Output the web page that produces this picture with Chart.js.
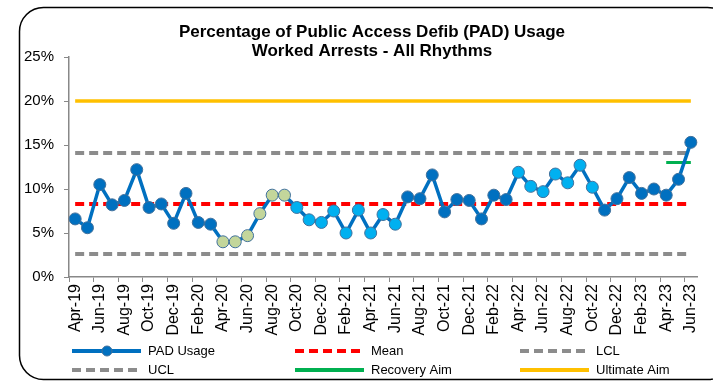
<!DOCTYPE html>
<html lang="en">
<head>
    <meta charset="UTF-8">
    <title>PAD Usage</title>
    <style>
        html, body { margin: 0; padding: 0; background: #fff; }
        #wrap { position: relative; width: 713px; height: 382px; }
    </style>
</head>
<body>
    <div id="wrap"><canvas id="padChart" width="713" height="382"></canvas></div>
    <script src="https://cdn.jsdelivr.net/npm/chart.js@4.4.0/dist/chart.umd.min.js"></script>
    <script>
        const months = [
            'Apr-19','May-19','Jun-19','Jul-19','Aug-19','Sep-19','Oct-19','Nov-19','Dec-19',
            'Jan-20','Feb-20','Mar-20','Apr-20','May-20','Jun-20','Jul-20','Aug-20','Sep-20','Oct-20','Nov-20','Dec-20',
            'Jan-21','Feb-21','Mar-21','Apr-21','May-21','Jun-21','Jul-21','Aug-21','Sep-21','Oct-21','Nov-21','Dec-21',
            'Jan-22','Feb-22','Mar-22','Apr-22','May-22','Jun-22','Jul-22','Aug-22','Sep-22','Oct-22','Nov-22','Dec-22',
            'Jan-23','Feb-23','Mar-23','Apr-23','May-23','Jun-23'
        ]
        // % of worked arrests with a PAD used
        const padUsage = [
            6.6, 5.6, 10.5, 8.2, 8.7, 12.2, 7.9, 8.3, 6.1,
            9.5, 6.2, 6.0, 4.0, 4.0, 4.7, 7.2, 9.3, 9.3, 7.9, 6.5, 6.2,
            7.5, 5.0, 7.6, 5.0, 7.1, 6.0, 9.1, 8.9, 11.6, 7.4, 8.8, 8.7,
            6.6, 9.3, 8.8, 11.9, 10.3, 9.7, 11.7, 10.7, 12.7, 10.2, 7.6, 8.9,
            11.3, 9.5, 10.0, 9.3, 11.1, 15.3
        ]
        const meanValue = 8.3
        const lclValue = 2.6
        const uclValue = 14.1
        const ultimateAim = 20
        const recoveryAim = 13
        const recoveryMonths = ['Apr-23','May-23','Jun-23']
        // SPC signal runs (shown with different point fills)
        const lowRunMonths = ['Apr-20','May-20','Jun-20','Jul-20','Aug-20','Sep-20']
        const shiftMonths = ['Oct-20','Nov-20','Dec-20','Jan-21','Feb-21','Mar-21','Apr-21','May-21','Jun-21',
            'Apr-22','May-22','Jun-22','Jul-22','Aug-22','Sep-22','Oct-22']

        const FONT = "'Liberation Sans', Arial, sans-serif"

        const pointFill = months.map(m => {
            if (lowRunMonths.includes(m)) return '#C3D69B'
            if (shiftMonths.includes(m)) return '#00B0F0'
            return '#0070C0'
        })

        const flat = v => months.map(() => v)

        const legendItems = [
            { label: 'PAD Usage', color: '#0070C0', dash: [], width: 4, dot: true, x: 72, y: 351 },
            { label: 'Mean', color: '#FF0000', dash: [9, 5], width: 4, x: 295, y: 351 },
            { label: 'LCL', color: '#8C8C8C', dash: [9, 5], width: 4, x: 520, y: 351 },
            { label: 'UCL', color: '#8C8C8C', dash: [9, 5], width: 4, x: 72, y: 370 },
            { label: 'Recovery Aim', color: '#00B050', dash: [], width: 4, x: 295, y: 370 },
            { label: 'Ultimate Aim', color: '#FFC000', dash: [], width: 4, x: 520, y: 370 },
        ]

        const decorPlugin = {
            id: 'decor',
            afterDraw(chart) {
                const ctx = chart.ctx
                ctx.save()
                // frame
                ctx.strokeStyle = '#000'
                ctx.lineWidth = 1.5
                ctx.beginPath()
                ctx.roundRect(19.5, 7.5, 712, 372, 24)
                ctx.stroke()
                // title
                ctx.fillStyle = '#000'
                ctx.font = 'bold 17px ' + FONT
                ctx.textAlign = 'center'
                ctx.textBaseline = 'middle'
                ctx.fillText('Percentage of Public Access Defib (PAD) Usage', 372, 32)
                ctx.fillText('Worked Arrests - All Rhythms', 372, 51)
                // legend
                ctx.font = '13px ' + FONT
                ctx.textAlign = 'left'
                legendItems.forEach(it => {
                    ctx.strokeStyle = it.color
                    ctx.lineWidth = it.width
                    ctx.setLineDash(it.dash)
                    ctx.lineCap = 'butt'
                    ctx.beginPath()
                    ctx.moveTo(it.x, it.y)
                    ctx.lineTo(it.x + 69, it.y)
                    ctx.stroke()
                    ctx.setLineDash([])
                    if (it.dot) {
                        ctx.fillStyle = '#0070C0'
                        ctx.strokeStyle = '#41719C'
                        ctx.lineWidth = 1
                        ctx.beginPath()
                        ctx.arc(it.x + 35, it.y, 5, 0, Math.PI * 2)
                        ctx.fill()
                        ctx.stroke()
                    }
                    ctx.fillStyle = '#000'
                    ctx.fillText(it.label, it.x + 76, it.y)
                })
                ctx.restore()
            }
        }

        const dashed = (label, value, color) => ({
            label,
            data: flat(value),
            borderColor: color,
            borderWidth: 4,
            borderDash: [9, 5],
            pointRadius: 0,
            fill: false,
        })

        new Chart(document.getElementById('padChart').getContext('2d'), {
            type: 'line',
            data: {
                labels: months,
                datasets: [
                    {
                        label: 'PAD Usage',
                        data: padUsage,
                        borderColor: '#0070C0',
                        borderWidth: 3.5,
                        pointRadius: 6,
                        pointBackgroundColor: pointFill,
                        pointBorderColor: '#41719C',
                        pointBorderWidth: 1,
                        tension: 0,
                    },
                    dashed('Mean', meanValue, '#FF0000'),
                    {
                        label: 'Recovery Aim',
                        data: months.map(m => recoveryMonths.includes(m) ? recoveryAim : null),
                        borderColor: '#00B050',
                        borderWidth: 3,
                        pointRadius: 0,
                    },
                    dashed('LCL', lclValue, '#8C8C8C'),
                    dashed('UCL', uclValue, '#8C8C8C'),
                    {
                        label: 'Ultimate Aim',
                        data: flat(ultimateAim),
                        borderColor: '#FFC000',
                        borderWidth: 3.5,
                        pointRadius: 0,
                    },
                ]
            },
            options: {
                responsive: false,
                animation: false,
                layout: { padding: { left: 20, right: 16, top: 57, bottom: 40 } },
                plugins: {
                    legend: { display: false },
                    title: { display: false },
                    tooltip: { enabled: false },
                },
                scales: {
                    y: {
                        min: 0,
                        max: 25,
                        afterFit: s => { s.width = 49 },
                        ticks: {
                            stepSize: 5,
                            callback: v => v + '%',
                            color: '#000',
                            padding: 10,
                            font: { family: FONT, size: 15 },
                        },
                        grid: { drawOnChartArea: false, tickLength: 5, color: '#888' },
                        border: { color: '#888', width: 1.5 },
                    },
                    x: {
                        offset: true,
                        afterFit: s => { s.height = 65 },
                        ticks: {
                            autoSkip: false,
                            minRotation: 90,
                            maxRotation: 90,
                            padding: 2,
                            color: '#000',
                            font: { family: FONT, size: 16 },
                            callback: (v, i) => i % 2 === 0 ? months[i] : '',
                        },
                        grid: {
                            offset: true,
                            drawOnChartArea: false,
                            tickLength: 5,
                            color: ctx => (ctx.index % 2 === 0 ? '#888' : 'rgba(0,0,0,0)'),
                        },
                        border: { color: '#888', width: 1.5 },
                    },
                },
            },
            plugins: [decorPlugin],
        })
    </script>
</body>
</html>
